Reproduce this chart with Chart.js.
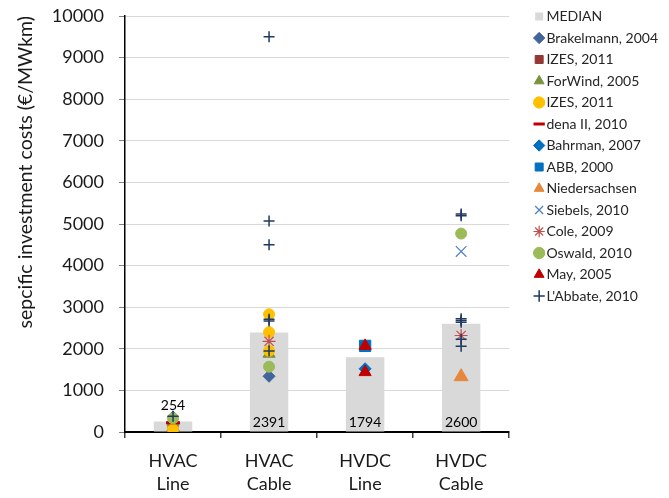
<!DOCTYPE html>
<html>
<head>
<meta charset="utf-8">
<script src="https://cdn.jsdelivr.net/npm/chart.js@4.4.0/dist/chart.umd.min.js"></script>
<style>
  html, body { margin: 0; padding: 0; background: #fff; }
  #wrap { width: 669px; height: 498px; }
</style>
</head>
<body>
<div id="wrap"><canvas id="chart" width="669" height="498"></canvas></div>
<script>
// Categories and axis ticks
const categories = ['HVAC Line', 'HVAC Cable', 'HVDC Line', 'HVDC Cable'];
const categoryLines = [['HVAC', 'Line'], ['HVAC', 'Cable'], ['HVDC', 'Line'], ['HVDC', 'Cable']];
const yTickValues = [0, 1000, 2000, 3000, 4000, 5000, 6000, 7000, 8000, 9000, 10000];

// Median bar per category
const medianValues = [254, 2391, 1794, 2600];

// Study values as [category, €/MWkm]
const brakelmann2004 = [['HVAC Line', 40], ['HVAC Cable', 1340]];
const izes2011Sq = [['HVAC Line', 150]];
const forwind2005 = [['HVAC Line', 250], ['HVAC Cable', 1880]];
const izes2011Circle = [['HVAC Line', 60], ['HVAC Cable', 2830], ['HVAC Cable', 2400], ['HVAC Cable', 1950]];
const dena2010 = [['HVAC Line', 224]];
const bahrman2007 = [['HVAC Line', 360], ['HVDC Line', 1520]];
const abb2000 = [['HVDC Line', 2070]];
const niedersachsen = [['HVDC Cable', 1330]];
const siebels2010 = [['HVDC Cable', 4340]];
const cole2009 = [['HVAC Cable', 2180], ['HVDC Cable', 2320]];
const oswald2010 = [['HVAC Line', 330], ['HVAC Cable', 1570], ['HVDC Cable', 4770]];
const may2005 = [['HVDC Line', 2070], ['HVDC Line', 1440]];
const labbate2010 = [
  ['HVAC Line', 380], ['HVAC Cable', 9500], ['HVAC Cable', 5070], ['HVAC Cable', 4500],
  ['HVAC Cable', 2710], ['HVAC Cable', 2670], ['HVAC Cable', 1950],
  ['HVDC Cable', 5240], ['HVDC Cable', 5200], ['HVDC Cable', 2720], ['HVDC Cable', 2680],
  ['HVDC Cable', 2640], ['HVDC Cable', 2230], ['HVDC Cable', 2060]
];

const FONT = 'Lato, "Open Sans", sans-serif';
const TEXT = '#1a1a1a';

// label, data, marker style, colour, radius, border width
const studies = [
  ['Brakelmann, 2004', brakelmann2004, 'rectRot', '#41649b', 6, 1],
  ['IZES, 2011', izes2011Sq, 'rect', '#953735', 7, 1],
  ['ForWind, 2005', forwind2005, 'triangle', '#77933c', 7, 1],
  ['IZES, 2011', izes2011Circle, 'circle', '#ffc000', 5.5, 1],
  ['dena II, 2010', dena2010, 'line', '#c00000', 7, 3],
  ['Bahrman, 2007', bahrman2007, 'rectRot', '#0070c0', 6, 1],
  ['ABB, 2000', abb2000, 'rect', '#0070c0', 8, 1],
  ['Niedersachsen', niedersachsen, 'triangle', '#e5883b', 8, 1],
  ['Siebels, 2010', siebels2010, 'crossRot', '#4f81bd', 7.5, 1.2],
  ['Cole, 2009', cole2009, 'star', '#c0504d', 6.5, 1.2],
  ['Oswald, 2010', oswald2010, 'circle', '#9bbb59', 5.5, 1],
  ['May, 2005', may2005, 'triangle', '#c00000', 7, 1],
  ["L'Abbate, 2010", labbate2010, 'cross', '#1f3864', 5.5, 1.5]
];

const n = studies.length;

const datasets = [
  {
    type: 'bar',
    label: 'MEDIAN',
    data: medianValues,
    backgroundColor: '#d9d9d9',
    pointStyle: 'rect',
    barPercentage: 0.4,
    categoryPercentage: 1,
    order: n + 1
  }
].concat(studies.map(([label, pts, style, color, r, bw], i) => ({
  type: 'line',
  label,
  data: pts.map(([c, v]) => ({ x: c, y: v })),
  showLine: false,
  pointStyle: style,
  pointRadius: r,
  pointHoverRadius: r,
  pointBackgroundColor: color,
  pointBorderColor: color,
  pointBorderWidth: bw,
  backgroundColor: color,
  borderColor: color,
  order: n - i
})));

// Median value labels: inside the bar bottom, or above it if the bar is short
const medianLabels = {
  id: 'medianLabels',
  afterDatasetsDraw(chart) {
    const ctx = chart.ctx;
    const meta = chart.getDatasetMeta(0);
    ctx.save();
    ctx.font = '14px ' + FONT;
    ctx.fillStyle = '#000';
    ctx.textAlign = 'center';
    ctx.textBaseline = 'middle';
    meta.data.forEach((bar, i) => {
      const h = bar.base - bar.y;
      const y = h < 30 ? bar.y - 16 : bar.base - 9;
      ctx.fillText(String(medianValues[i]), bar.x, y);
    });
    ctx.restore();
  }
};

new Chart(document.getElementById('chart'), {
  type: 'bar',
  data: { labels: categories, datasets },
  plugins: [medianLabels],
  options: {
    responsive: false,
    animation: false,
    devicePixelRatio: 1,
    layout: { padding: { top: 2, right: 1, bottom: 0, left: 5 } },
    plugins: {
      tooltip: { enabled: false },
      legend: {
        position: 'right',
        align: 'start',
        maxWidth: 220,
        labels: {
          usePointStyle: true,
          boxWidth: 0.5,
          boxHeight: 8,
          padding: 7.5,
          color: '#262626',
          font: { family: FONT, size: 14 },
          sort: (a, b) => a.datasetIndex - b.datasetIndex
        }
      }
    },
    scales: {
      x: {
        grid: {
          offset: true,
          drawOnChartArea: false,
          tickLength: 6,
          tickColor: '#404040',
          lineWidth: 1.5
        },
        border: { color: '#000', width: 2 },
        ticks: {
          padding: 11,
          color: TEXT,
          font: { family: FONT, size: 18, lineHeight: 1.3 },
          callback: (v, i) => categoryLines[i]
        },
        afterFit: s => { s.height = 66; }
      },
      y: {
        min: 0,
        max: 10000,
        afterBuildTicks: s => { s.ticks = yTickValues.map(v => ({ value: v })); },
        grid: { color: '#d9d9d9', tickColor: '#808080', tickLength: 6 },
        border: { color: '#000', width: 1.5 },
        ticks: {
          padding: 15,
          color: TEXT,
          font: { family: FONT, size: 18 },
          callback: v => String(v)
        },
        title: {
          display: true,
          text: 'sepcific investment costs (€/MWkm)',
          align: 'end',
          color: TEXT,
          font: { family: FONT, size: 19.5 },
          padding: { top: 9, bottom: 0 }
        },
        afterFit: s => { s.width = 120; s.paddingTop = 16; }
      },
      gap: {
        type: 'linear',
        position: 'right',
        display: true,
        grid: { display: false },
        ticks: { display: false },
        border: { display: false },
        afterFit: s => { s.width = 22.25; }
      }
    }
  }
});
</script>
</body>
</html>
